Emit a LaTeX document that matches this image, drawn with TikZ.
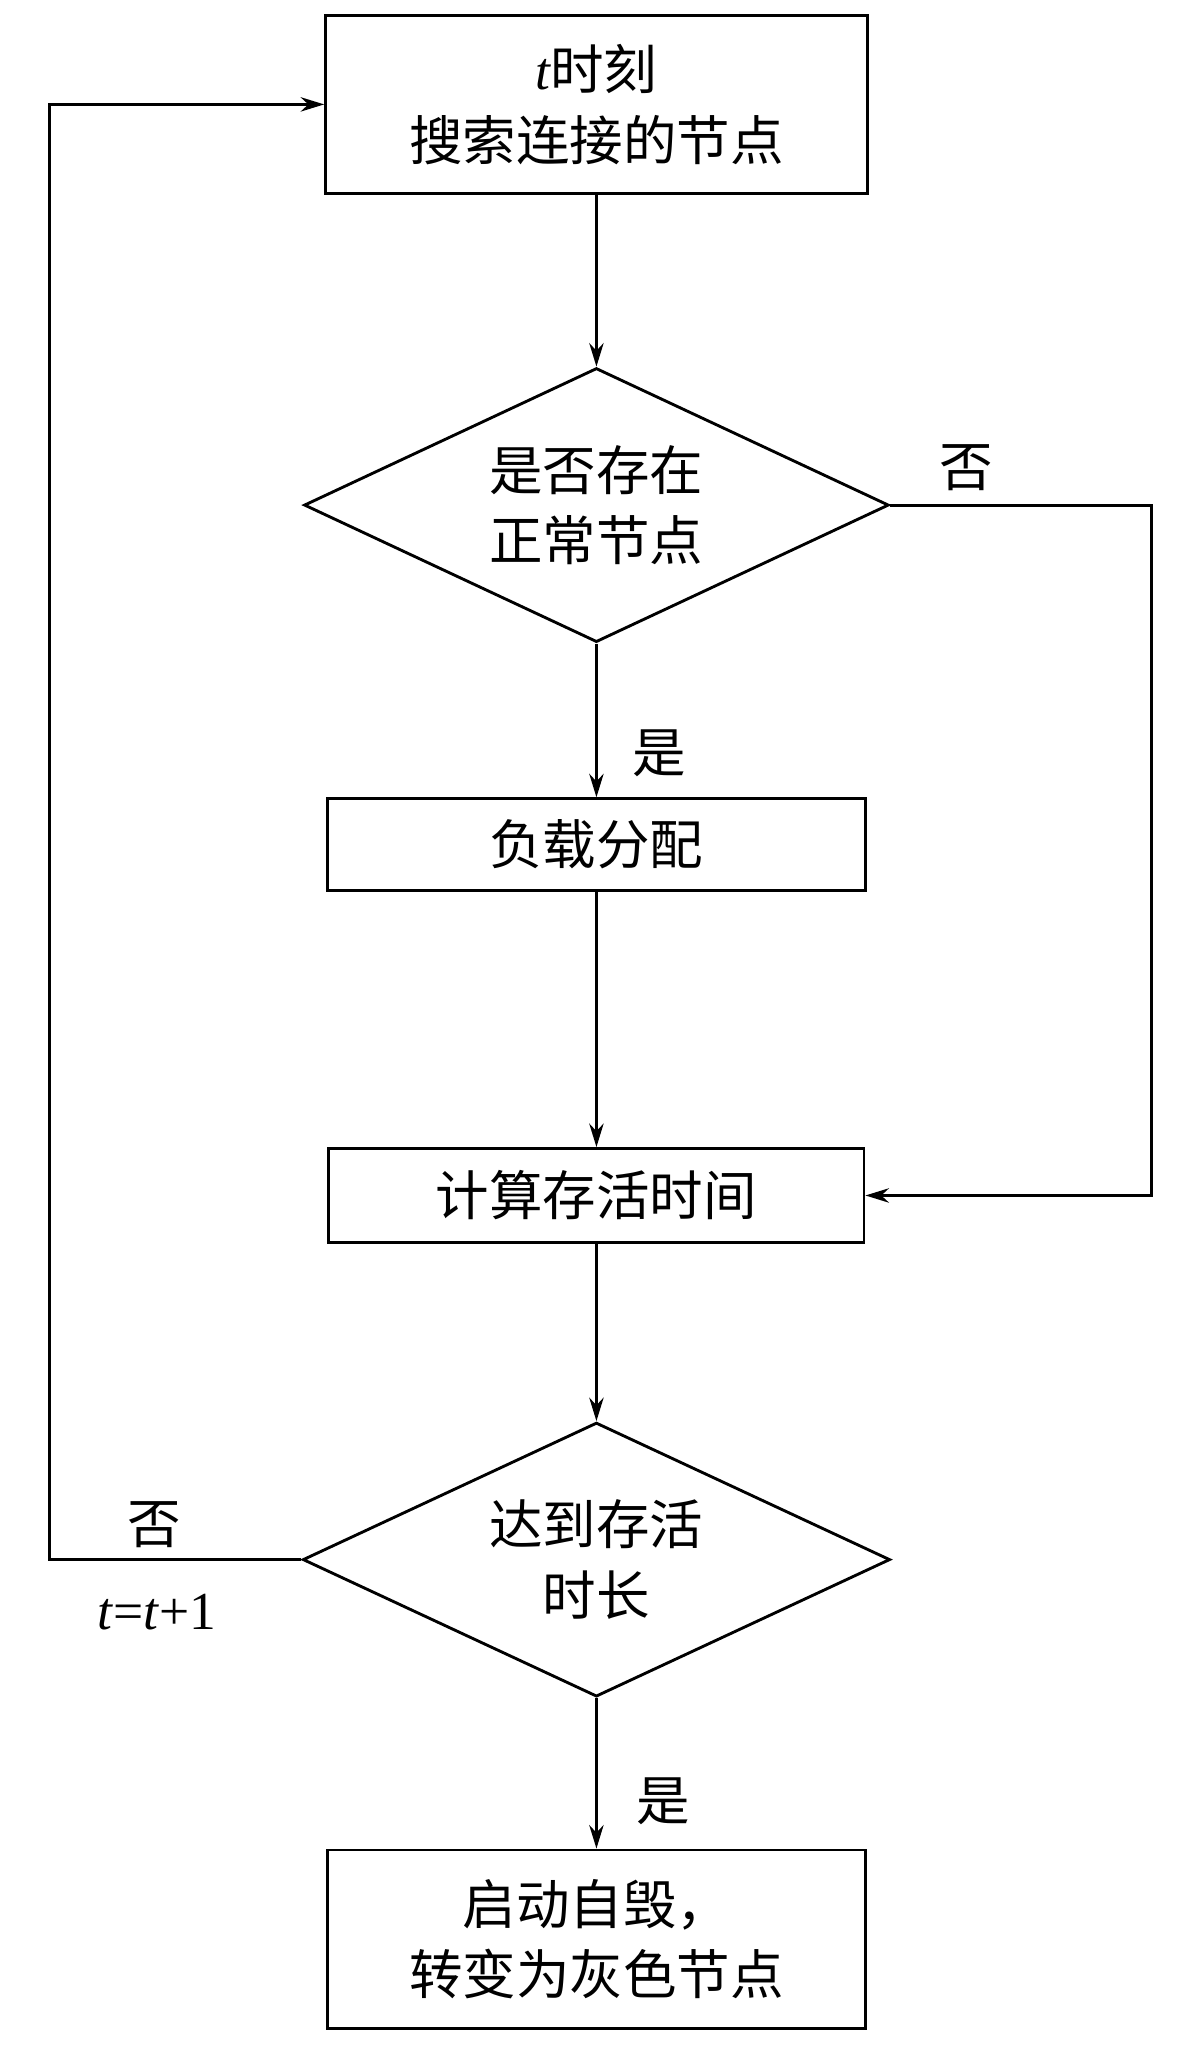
\documentclass[tikz,border=0pt]{standalone}
\usepackage{fontspec}
\newfontfamily\cjk{Noto Sans CJK SC}
\newfontfamily\lat{Liberation Serif}
\usetikzlibrary{shapes.geometric,arrows.meta}
\tikzstyle{every node}=[align=center, font=\cjk\fontsize{41}{54}\selectfont]
\tikzstyle{box}=[draw=black, line width=2.2pt, inner sep=0pt]
\tikzstyle{line}=[draw=black, line width=2.2pt, -{Stealth[length=18pt,width=11pt]}]
\begin{document}
\begin{tikzpicture}[x=1pt,y=-1pt]
  \useasboundingbox (0,0) rectangle (920,1570);
  \node[box, minimum width=415pt, minimum height=136pt] (search) at (457,80) {{\lat\itshape t}时刻\\搜索连接的节点};
  \node[box, diamond, minimum width=448pt, minimum height=210pt, aspect=2.13] (normal) at (457,387) {是否存在\\正常节点};
  \node[box, minimum width=412pt, minimum height=70pt] (load) at (457,647) {负载分配};
  \node[box, minimum width=410pt, minimum height=72pt] (calc) at (457,916) {计算存活时间};
  \node[box, diamond, minimum width=450pt, minimum height=210pt, aspect=2.14] (reach) at (457,1195) {达到存活\\时长};
  \node[box, minimum width=412pt, minimum height=137pt] (destroy) at (457,1486) {启动自毁，\\转变为灰色节点};
  \coordinate (rc) at (882,387);
  \coordinate (lc) at (38,1195);
  \draw[line] (search) -- (normal);
  \draw[line] (normal) -- (load);
  \draw[line] (load) -- (calc);
  \draw[line] (calc) -- (reach);
  \draw[line] (reach) -- (destroy);
  \draw[line] (normal.east) -- (rc) |- (calc.east);
  \draw[line] (reach.west) -- (lc) |- (search.west);
  \node (no1) at (740,358) {否};
  \node (yes1) at (505,577) {是};
  \node (no2) at (118,1168) {否};
  \node[font=\lat\fontsize{41}{50}\selectfont] (inc) at (120,1235) {\textit{t}=\textit{t}+1};
  \node (yes2) at (508,1380) {是};
\end{tikzpicture}
\end{document}
